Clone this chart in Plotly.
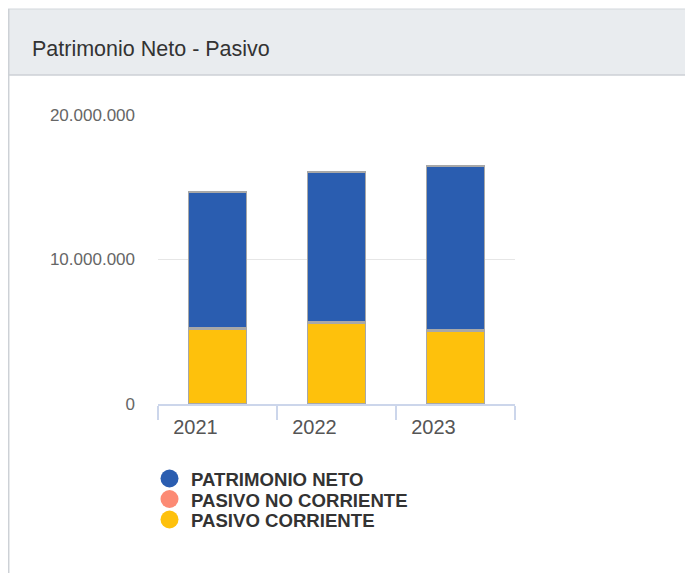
import plotly.graph_objects as go

years = ["2021", "2022", "2023"]
pasivo_corriente = [5190000, 5600000, 5050000]
pasivo_no_corriente = [70000, 70000, 70000]
patrimonio_neto = [9410000, 10390000, 11350000]
y_ticks = [0, 10000000, 20000000]
y_tick_labels = ["0", "10.000.000", "20.000.000"]
legend_names = ["PATRIMONIO NETO", "PASIVO NO CORRIENTE", "PASIVO CORRIENTE"]

OFF = 8  # page body margin
W, H = 685, 565
L, R, T, B = 158 - OFF, 515 - OFF, 115 - OFF, 404 - OFF

def px(x):
    return (x - OFF - L) / (R - L)

def py(y):
    return (B - (y - OFF)) / (B - T)

col_pn = "#2a5db0"
col_pnc = "#fc8a74"
col_pc = "#fec10c"
edge = "#a8a8a8"
colors = {"PATRIMONIO NETO": col_pn, "PASIVO NO CORRIENTE": col_pnc, "PASIVO CORRIENTE": col_pc}

fig = go.Figure()
fig.add_bar(x=years, y=pasivo_corriente, name="PASIVO CORRIENTE", marker=dict(color=col_pc, line=dict(color=edge, width=1.5)), showlegend=False)
fig.add_bar(x=years, y=pasivo_no_corriente, name="PASIVO NO CORRIENTE", marker=dict(color=col_pnc, line=dict(color=edge, width=1.5)), showlegend=False)
fig.add_bar(x=years, y=patrimonio_neto, name="PATRIMONIO NETO", marker=dict(color=col_pn, line=dict(color=edge, width=1.5)), showlegend=False)

shapes = [
    dict(type="rect", xref="paper", yref="paper", x0=px(7), x1=px(700), y0=py(75), y1=py(9),
         fillcolor="#e9ecef", line=dict(width=0), layer="below"),
    dict(type="line", xref="paper", yref="paper", x0=px(7), x1=px(700), y0=py(9), y1=py(9),
         line=dict(color="#d3d7dc", width=1)),
    dict(type="line", xref="paper", yref="paper", x0=px(7), x1=px(700), y0=py(75), y1=py(75),
         line=dict(color="#cdd1d6", width=1.5)),
    dict(type="line", xref="paper", yref="paper", x0=px(8.7), x1=px(8.7), y0=py(9), y1=py(580),
         line=dict(color="#cdd1d6", width=1.5)),
]

annotations = [dict(text="Patrimonio Neto - Pasivo", xref="paper", yref="paper",
                    x=px(30), y=py(49), xanchor="left", yanchor="middle", showarrow=False,
                    font=dict(size=21.5, color="#333333"))]

# manual legend (circle symbols + bold labels)
for i, name in enumerate(legend_names):
    cy = 478.5 + i * 20.5
    cx = 169.5
    r = 9
    shapes.append(dict(type="circle", xref="paper", yref="paper",
                       x0=px(cx - r), x1=px(cx + r), y0=py(cy + r), y1=py(cy - r),
                       fillcolor=colors[name], line=dict(width=0)))
    annotations.append(dict(text="<b>" + name + "</b>", xref="paper", yref="paper",
                            x=px(188.5), y=py(cy + 1), xanchor="left", yanchor="middle", showarrow=False,
                            font=dict(size=18.6, color="#333333")))

fig.update_layout(
    width=W, height=H,
    margin=dict(l=L, r=W - R, t=T, b=H - B, pad=0),
    paper_bgcolor="white", plot_bgcolor="white",
    barmode="stack", bargap=0.51, showlegend=False,
    font=dict(family="Liberation Sans, Arial, sans-serif", color="#666666"),
    shapes=shapes,
    annotations=annotations,
    xaxis=dict(showline=True, linecolor="#ccd6eb", linewidth=1.5, ticks="outside", tickson="boundaries",
               ticklen=14, tickcolor="#ccd6eb", tickwidth=1.5, showgrid=False,
               tickfont=dict(size=20, color="#555555"), ticklabelshift=-22, ticklabelstandoff=4),
    yaxis=dict(range=[0, 20000000], tickvals=y_ticks, ticktext=y_tick_labels, showgrid=True,
               gridcolor="#e6e6e6", gridwidth=1, zeroline=False, showline=False,
               tickfont=dict(size=17, color="#666666"), ticklabelstandoff=22),
)

fig.write_html("out.html")
